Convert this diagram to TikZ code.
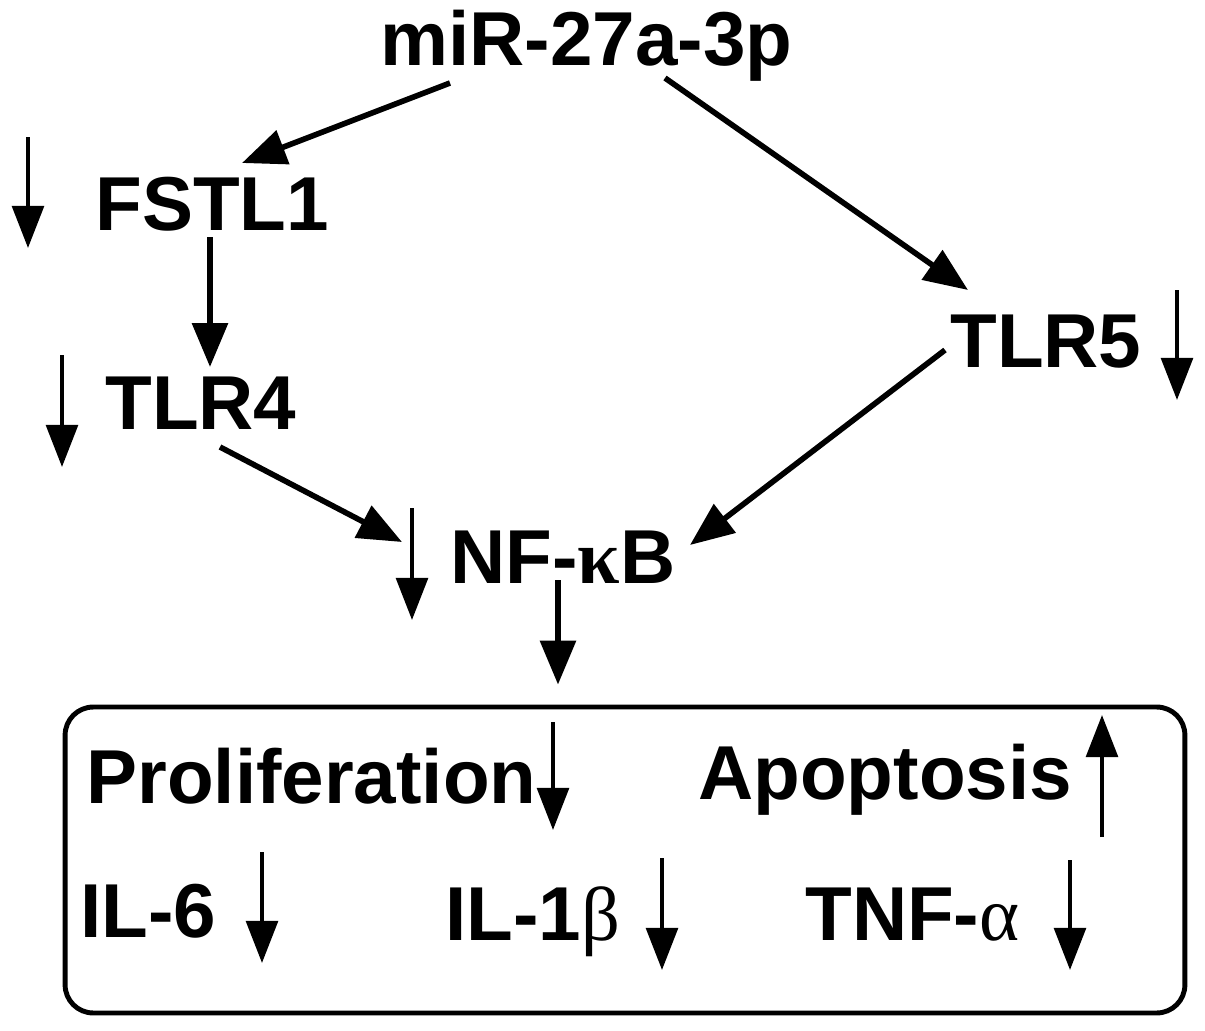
\documentclass[tikz,border=0pt]{standalone}
\usepackage{fontspec}
\setmainfont{Liberation Sans}
\newfontfamily\greekfont{Liberation Serif}
\usetikzlibrary{arrows.meta,calc}

\tikzset{
  lbl/.style={inner sep=0pt, anchor=base west, font=\fontsize{43.5}{48}\selectfont\bfseries},
  conn/.style={line width=3.2pt, -{Triangle[length=25pt,width=20pt]}},
  ind/.style={line width=2.4pt, -{Triangle[length=24pt,width=18pt]}},
  panel/.style={draw, line width=2.8pt, rounded corners=16pt, inner sep=0pt}
}

\begin{document}
\begin{tikzpicture}[x=0.02cm,y=-0.02cm]
\useasboundingbox (0,0) rectangle (1205,1031);

% labels
\node[lbl] (mir) at (380,65) {miR-27a-3p};
\node[lbl] (fstl) at (95,230) {FSTL1};
\node[lbl] (tlrfour) at (105,429) {TLR4};
\node[lbl] (tlrfive) at (950,367) {TLR5};
\node[lbl] (nfkb) at (450,583) {NF-{\greekfont κ}B};

% result box
\node[panel, minimum width=22.4cm, minimum height=6.12cm] (box) at (625,860) {};
\node[lbl] (prolif) at (86,803) {Proliferation};
\node[lbl] (apop) at (698,799) {Apoptosis};
\node[lbl] (ilsix) at (80,937) {IL-6};
\node[lbl] (ilone) at (445,940) {IL-1{\greekfont\mdseries β}};
\node[lbl] (tnf) at (805,940) {TNF-{\greekfont\mdseries α}};

% connectors
\draw[conn] ($(mir.base west)+(70,18)$) -- ($(fstl.base west)+(147,-67)$);
\draw[conn] ($(mir.base west)+(285,13)$) -- ($(tlrfive.base west)+(18,-77)$);
\draw[conn] ($(fstl.base west)+(115,7)$) -- ($(tlrfour.base west)+(105,-62)$);
\draw[conn] ($(tlrfour.base west)+(115,18)$) -- ($(nfkb.base west)+(-48,-41)$);
\draw[conn] ($(tlrfive.base west)+(-5,-17)$) -- ($(nfkb.base west)+(240,-38)$);
\draw[conn] ($(nfkb.base west)+(108,-3)$) -- ($(box.north)+(-67,-20)$);

% up / down marks
\draw[ind] (28,137) -- (28,248);
\draw[ind] (62,355) -- (62,467);
\draw[ind] (1177,290) -- (1177,400);
\draw[ind] (412,508) -- (412,620);
\draw[ind] (553,722) -- (553,830);
\draw[ind] (1102,837) -- (1102,715);
\draw[ind] (262,852) -- (262,963);
\draw[ind] (662,858) -- (662,970);
\draw[ind] (1070,860) -- (1070,970);

\end{tikzpicture}
\end{document}
